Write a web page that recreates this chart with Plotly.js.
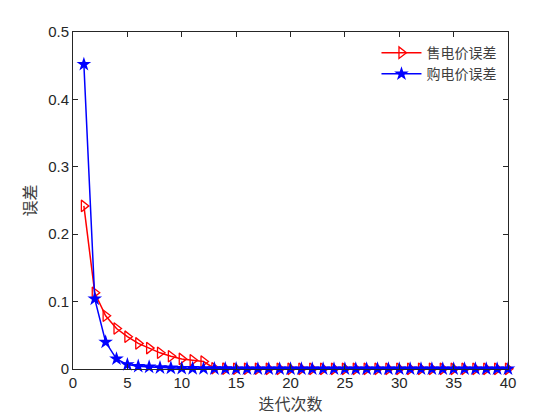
<!DOCTYPE html>
<html><head><meta charset="utf-8">
<script src="https://cdn.plot.ly/plotly-3.0.1.min.js"></script>
<style>body{margin:0;background:#fff}#c{width:560px;height:420px}</style>
</head><body><div id="c"></div>
<script>
const iterations = Array.from({length:40},(_,i)=>i+1);
const sellError = [0.242,0.113,0.079,0.060,0.048,0.038,0.031,0.024,0.019,0.015,0.013,0.011,0.001,0.0005,0.0004,0.0003,0.0003,0.0002,0.0002,0.0002,0.0002,0.0002,0.0002,0.0002,0.0002,0.0002,0.0002,0.0002,0.0002,0.0002,0.0002,0.0002,0.0002,0.0002,0.0002,0.0002,0.0002,0.0002,0.0002,0.0002];
const buyError = [0.452,0.104,0.040,0.015,0.0065,0.004,0.003,0.002,0.0015,0.001,0.0008,0.0006,0.0005,0.0004,0.0003,0.0003,0.0002,0.0002,0.0002,0.0002,0.0002,0.0002,0.0002,0.0002,0.0002,0.0002,0.0002,0.0002,0.0002,0.0002,0.0002,0.0002,0.0002,0.0002,0.0002,0.0002,0.0002,0.0002,0.0002,0.0002];
const seriesNames = ['售电价误差','购电价误差'];
const xTicks = [0,5,10,15,20,25,30,35,40];
const yTicks = [0,0.1,0.2,0.3,0.4,0.5];
const cjk = '"Noto Sans CJK SC", sans-serif';
const traces = [
 {x:iterations,y:sellError,name:seriesNames[0],mode:'lines+markers',cliponaxis:false,
  line:{color:'#ff0000',width:1.5},marker:{symbol:'triangle-right-open',size:10,color:'#ff0000',line:{width:1.3}}},
 {x:iterations,y:buyError,name:seriesNames[1],mode:'lines+markers',cliponaxis:false,
  line:{color:'#0000ff',width:1.5},marker:{symbol:'star',size:11,color:'#0000ff',line:{width:0}}}
];
const axisCommon = {showline:true,mirror:'ticks',linecolor:'#262626',linewidth:1,ticks:'inside',ticklen:5,tickcolor:'#262626',
  showgrid:false,zeroline:false,tickfont:{family:'Arial, "Liberation Sans", sans-serif',size:15,color:'#262626'}};
const layout = {
 width:560,height:420,margin:{l:73,r:52,t:32,b:51},paper_bgcolor:'#fff',plot_bgcolor:'#fff',
 xaxis:Object.assign({},axisCommon,{range:[0,40],tickvals:xTicks,ticktext:xTicks.map(String),
   title:{text:'迭代次数',font:{family:cjk,size:16,color:'#404040'},standoff:8}}),
 yaxis:Object.assign({},axisCommon,{range:[0,0.5],tickvals:yTicks,ticktext:yTicks.map(String),
   title:{text:'误差',font:{family:cjk,size:16,color:'#404040'},standoff:7}}),
 legend:{x:0.985,y:0.985,xanchor:'right',yanchor:'top',bgcolor:'rgba(255,255,255,0)',borderwidth:0,
   font:{family:cjk,size:14,color:'#404040'},tracegroupgap:0,itemwidth:40},
 showlegend:true
};
Plotly.newPlot('c',traces,layout,{displayModeBar:false,staticPlot:true});
</script></body></html>
